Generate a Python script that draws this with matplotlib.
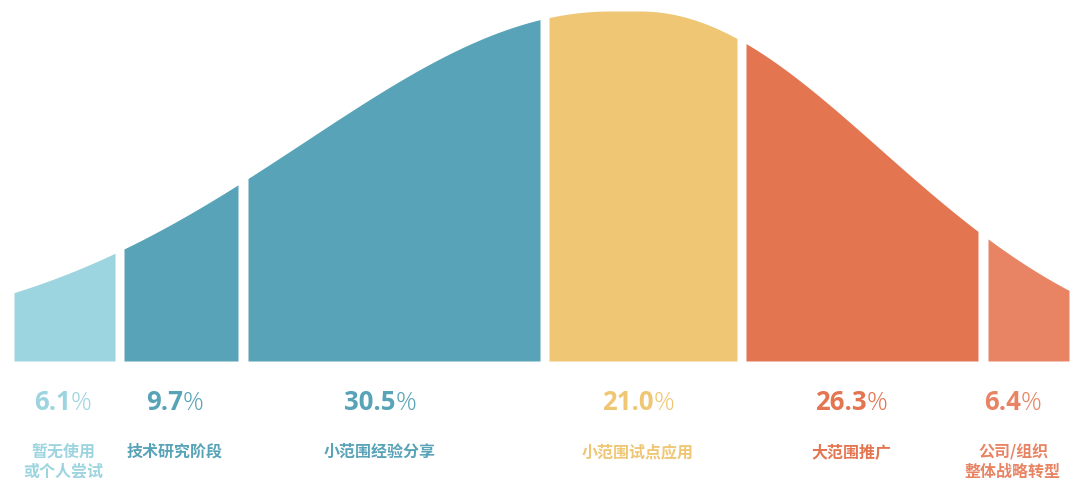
import numpy as np
import matplotlib.pyplot as plt

plt.rcParams['font.family'] = ['Noto Sans CJK SC', 'DejaVu Sans']

# adoption stages and their shares (%)
stages = ['暂无使用\n或个人尝试', '技术研究阶段', '小范围经验分享',
          '小范围试点应用', '大范围推广', '公司/组织\n整体战略转型']
shares = [6.1, 9.7, 30.5, 21.0, 26.3, 6.4]
colors = ['#9CD4E0', '#58A3B7', '#58A3B7', '#EFC673', '#E47551', '#E88464']

# layout in canvas pixels: slice spans under the curve, label centres
spans = [(14, 115), (124, 238), (248, 540), (549, 737), (746, 978), (988, 1069)]
label_x = [63, 175, 380, 638, 851, 1013]
BASE = 361


def bell(x):
    # skewed bell: wide gaussian on the left, flat top, narrower on the right
    h = np.full_like(x, 350.0)
    left = x < 610
    right = x > 640
    h[left] = 20 + 330 * np.exp(-(x[left] - 610) ** 2 / 185000)
    h[right] = 350 * np.exp(-(x[right] - 640) ** 2 / 115000)
    return h


fig = plt.figure(figsize=(10.79, 4.78), dpi=100)
ax = fig.add_axes([0, 0, 1, 1])
ax.set_xlim(0, 1079)
ax.set_ylim(478, 0)
ax.axis('off')

for (x0, x1), c in zip(spans, colors):
    xs = np.linspace(x0, x1, 200)
    ax.fill_between(xs, BASE, BASE - bell(xs), color=c, lw=0)

renderer = fig.canvas.get_renderer()
num_font = ['Open Sans', 'DejaVu Sans']
gap = 0

for x, val, name, c in zip(label_x, shares, stages, colors):
    # bold number followed by a thin percent sign, centred as a pair
    num = ax.text(0, 0, f'{val:.1f}', fontsize=18.5, fontweight='bold',
                  family=num_font, color=c, va='baseline')
    pct = ax.text(0, 0, '%', fontsize=18.5, fontweight='light',
                  family=num_font, color=c, va='baseline')
    w_num = num.get_window_extent(renderer).width
    w_pct = pct.get_window_extent(renderer).width
    total = w_num + w_pct + gap
    x_disp, y_disp = ax.transData.transform((x, 410))
    inv = ax.transData.inverted()
    num.set_position(inv.transform((x_disp - total / 2, y_disp)))
    pct.set_position(inv.transform((x_disp - total / 2 + w_num + gap, y_disp)))

    ax.text(x, 444, name, fontsize=11.5, fontweight='bold', color=c,
            ha='center', va='top', linespacing=1.25)

fig.savefig('out.png', dpi=100)
